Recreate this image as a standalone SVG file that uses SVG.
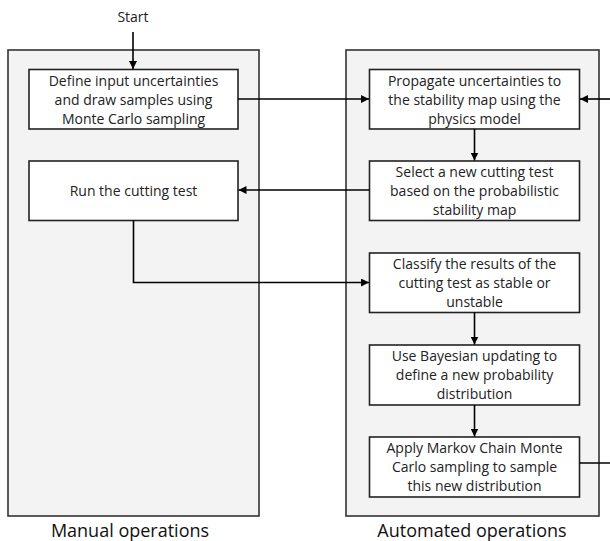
<svg xmlns="http://www.w3.org/2000/svg" width="610" height="541" viewBox="0 0 610 541">
<defs>
<marker id="ah" viewBox="0 0 10 10" refX="10" refY="5" markerWidth="8" markerHeight="8" markerUnits="userSpaceOnUse" orient="auto">
<path d="M0,0 L10,5 L0,10 z" fill="#000"/>
</marker>
</defs>
<style>
.panel{fill:#f3f3f3;stroke:#333;stroke-width:1.6}
.box{fill:#fff;stroke:#222;stroke-width:1.6}
.t{font-family:"Open Sans","Liberation Sans",sans-serif;font-size:14px;fill:#222;text-anchor:middle}
.lab{font-family:"Open Sans","Liberation Sans",sans-serif;font-size:18px;fill:#111;text-anchor:middle}
.c{fill:none;stroke:#000;stroke-width:1.6}
</style>
<rect width="610" height="541" fill="#fff"/>
<g id="panel-manual">
<rect class="panel" x="8" y="50" width="251" height="466"/>
<text class="lab" x="130" y="537">Manual operations</text>
</g>
<g id="panel-auto">
<rect class="panel" x="346" y="50" width="253" height="466"/>
<text class="lab" x="472" y="537">Automated operations</text>
</g>
<g id="start"><text class="t" x="133" y="22" font-size="13">Start</text></g>
<g id="n1">
<rect class="box" x="29" y="69.5" width="209" height="59.5"/>
<text class="t" x="133.5" y="86">Define input uncertainties</text>
<text class="t" x="133.5" y="105">and draw samples using</text>
<text class="t" x="133.5" y="124">Monte Carlo sampling</text>
</g>
<g id="n2">
<rect class="box" x="29" y="161" width="209" height="59.5"/>
<text class="t" x="133.5" y="196">Run the cutting test</text>
</g>
<g id="n3">
<rect class="box" x="369.5" y="69.5" width="210" height="59.5"/>
<text class="t" x="474.5" y="86">Propagate uncertainties to</text>
<text class="t" x="474.5" y="105">the stability map using the</text>
<text class="t" x="474.5" y="124">physics model</text>
</g>
<g id="n4">
<rect class="box" x="369.5" y="161" width="210" height="59.5"/>
<text class="t" x="474.5" y="177">Select a new cutting test</text>
<text class="t" x="474.5" y="196">based on the probabilistic</text>
<text class="t" x="474.5" y="215">stability map</text>
</g>
<g id="n5">
<rect class="box" x="369.5" y="253" width="210" height="59.5"/>
<text class="t" x="474.5" y="269">Classify the results of the</text>
<text class="t" x="474.5" y="288">cutting test as stable or</text>
<text class="t" x="474.5" y="307">unstable</text>
</g>
<g id="n6">
<rect class="box" x="369.5" y="345" width="210" height="60"/>
<text class="t" x="474.5" y="361">Use Bayesian updating to</text>
<text class="t" x="474.5" y="380">define a new probability</text>
<text class="t" x="474.5" y="399">distribution</text>
</g>
<g id="n7">
<rect class="box" x="369.5" y="437" width="210" height="60"/>
<text class="t" x="474.5" y="453">Apply Markov Chain Monte</text>
<text class="t" x="474.5" y="472">Carlo sampling to sample</text>
<text class="t" x="474.5" y="491">this new distribution</text>
</g>
<g id="connectors">
<path class="c" d="M133,32 V69" marker-end="url(#ah)"/>
<path class="c" d="M238,99 H369" marker-end="url(#ah)"/>
<path class="c" d="M612,99 H580" marker-end="url(#ah)"/>
<path class="c" d="M474.5,129 V160.5" marker-end="url(#ah)"/>
<path class="c" d="M369.5,190 H238.5" marker-end="url(#ah)"/>
<path class="c" d="M133.5,220.5 V282.5 H369" marker-end="url(#ah)"/>
<path class="c" d="M474.5,312.5 V344.5" marker-end="url(#ah)"/>
<path class="c" d="M474.5,405 V436.5" marker-end="url(#ah)"/>
<path class="c" d="M579.5,463 H612"/>
</g>
</svg>
